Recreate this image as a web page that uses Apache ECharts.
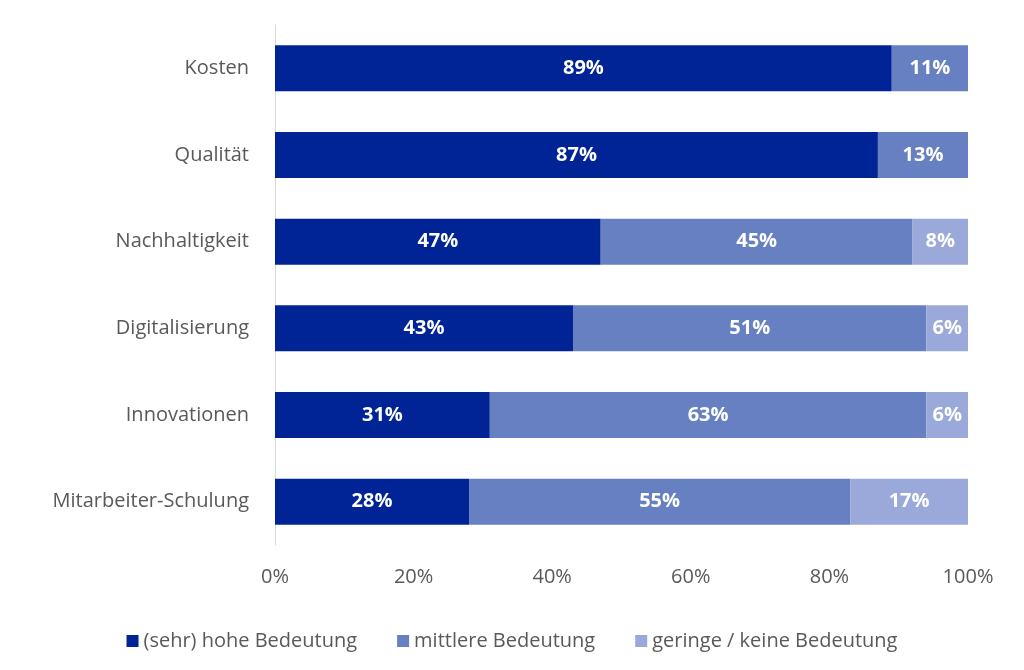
<!DOCTYPE html>
<html><head><meta charset="utf-8">
<script src="https://cdn.jsdelivr.net/npm/echarts@6/dist/echarts.min.js"></script>
<style>html,body{margin:0;background:#fff}#chart{width:1024px;height:670px}</style>
</head><body><div id="chart"></div>
<script>
// Kategorien von unten nach oben
var categories = ['Mitarbeiter-Schulung', 'Innovationen', 'Digitalisierung', 'Nachhaltigkeit', 'Qualität', 'Kosten'];
var hoch = [28, 31, 43, 47, 87, 89];
var mittel = [55, 63, 51, 45, 13, 11];
var gering = [17, 6, 6, 8, 0, 0];
var seriesNames = ['(sehr) hohe Bedeutung', 'mittlere Bedeutung', 'geringe / keine Bedeutung'];
var colors = ['#002395', '#6680c2', '#9aa9d9'];

var font = '"Open Sans", "Noto Sans", sans-serif';
var chart = echarts.init(document.getElementById('chart'));

function mk(name, data, color) {
    return {
        name: name, type: 'bar', stack: 'a', data: data, barWidth: '53%',
        itemStyle: {color: color},
        label: {
            show: true, color: '#fff', fontWeight: 'bold', fontSize: 20, fontFamily: font,
            formatter: function (p) { return p.value > 0 ? p.value + '%' : ''; }
        }
    };
}

chart.setOption({
    animation: false,
    color: colors,
    grid: {left: 275, right: 56, top: 25, bottom: 125},
    legend: {
        bottom: 14, left: 'center', itemWidth: 12, itemHeight: 12, itemGap: 40, icon: 'rect',
        textStyle: {color: '#595959', fontSize: 20, fontFamily: font},
        data: seriesNames
    },
    xAxis: {
        type: 'value', min: 0, max: 100, interval: 20,
        axisLabel: {formatter: '{value}%', color: '#595959', fontSize: 20, fontFamily: font, margin: 22},
        splitLine: {show: false}, axisLine: {show: false}, axisTick: {show: false}
    },
    yAxis: {
        type: 'category', data: categories,
        axisLine: {show: true, lineStyle: {color: '#d9d9d9'}}, axisTick: {show: false},
        axisLabel: {color: '#595959', fontSize: 20, fontFamily: font, margin: 26}
    },
    series: [
        mk(seriesNames[0], hoch, colors[0]),
        mk(seriesNames[1], mittel, colors[1]),
        mk(seriesNames[2], gering, colors[2])
    ]
});
</script></body></html>
